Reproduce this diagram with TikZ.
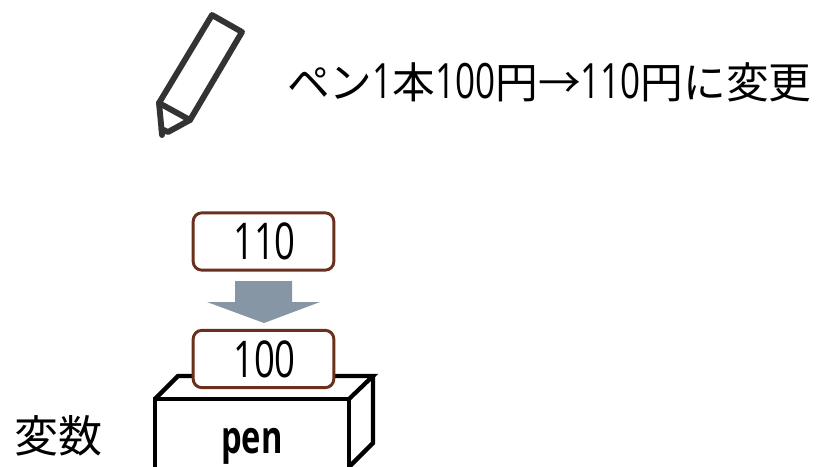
\documentclass[tikz,border=0pt]{standalone}
\usepackage{fontspec}
\newfontfamily\cjkf{Noto Sans CJK JP}
\newfontfamily\numf[FakeStretch=0.72]{Open Sans}
\newfontfamily\numb[FakeStretch=0.72]{Open Sans Bold}
\definecolor{brownln}{HTML}{6B2F1E}
\definecolor{arrowgr}{HTML}{8696A4}
\definecolor{penink}{HTML}{333333}
\tikzset{
 valbox/.style={draw=brownln,line width=2.2pt,rounded corners=6.5pt,fill=white,minimum width=105.5pt,minimum height=43pt,inner sep=0pt,text=black,font=\fontsize{38}{38}\selectfont\numf},
 boxln/.style={draw=black,line width=3.2pt,line join=miter},
 penln/.style={draw=penink,line width=4.4pt,line join=round,line cap=round},
 lab/.style={inner sep=0pt,text=black,anchor=west}
}
\newcommand{\jp}[1]{{\fontsize{32}{32}\selectfont\cjkf #1}}
\newcommand{\nm}[1]{{\fontsize{36.5}{36.5}\selectfont\numf #1}}
\begin{document}
\begin{tikzpicture}[x=0.75pt,y=-0.75pt]
\useasboundingbox (0,0) rectangle (821,467);
\fill[white] (0,0) rectangle (821,467);
% pen
\draw[penln] (212,15) -- (242,32) -- (190,120) -- (159,103) -- cycle;
\draw[penln] (159,103) -- (161.5,129) -- (168,132) -- (190,120);
\draw[penln] (161.5,129) -- (162,135);
% heading
\node[lab] (head) at (287,82) {\jp{ペン}\nm{1}\jp{本}\nm{100}\jp{円→}\nm{110}\jp{円に変更}};
% box
\draw[boxln] (155,399) -- (178,376) -- (373,376) -- (349,399);
\draw[boxln] (373,376) -- (373,443) -- (349,467);
\draw[boxln] (155,470) -- (155,399) -- (349,399) -- (349,470);
\node[inner sep=0pt,font=\fontsize{34}{34}\selectfont\numb] (pen) at (252,446) {pen};
\node[lab] (var) at (14,436) {\fontsize{33}{33}\selectfont\cjkf 変数};
% values
\node[valbox] (new) at (263.5,241.5) {\hspace{1.5pt}110};
\node[valbox] (old) at (263.5,359) {\hspace{1.5pt}100};
\fill[arrowgr] (235,281) -- (292,281) -- (292,302) -- (320,302) -- (264,323) -- (207,302) -- (235,302) -- cycle;
\end{tikzpicture}
\end{document}
